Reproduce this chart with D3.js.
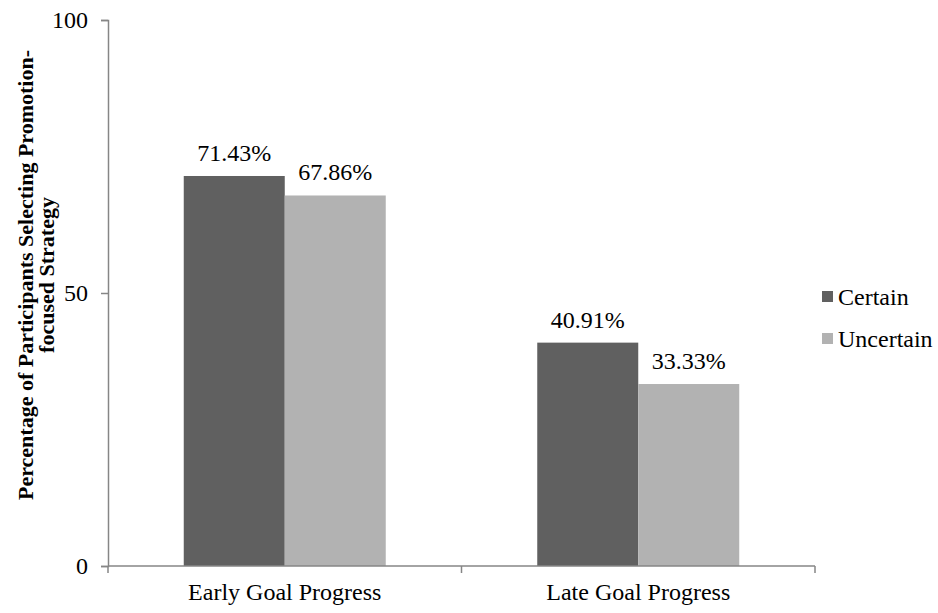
<!DOCTYPE html>
<html>
<head>
<meta charset="utf-8">
<script src="https://cdn.jsdelivr.net/npm/d3@7"></script>
<style>
  html, body { margin: 0; padding: 0; background: #fff; }
  svg { display: block; }
</style>
</head>
<body>
<svg id="chart" width="938" height="613"></svg>
<script>
// Data
const categories = ["Early Goal Progress", "Late Goal Progress"];
const seriesNames = ["Certain", "Uncertain"];
const certainValues = [71.43, 40.91];
const uncertainValues = [67.86, 33.33];
const yTicks = [0, 50, 100];
const seriesColors = ["#606060", "#b2b2b2"];

const seriesValues = [certainValues, uncertainValues];

const serif = "'Liberation Serif', 'Times New Roman', Times, serif";
const svg = d3.select("#chart");
const axisColor = "#868686";

const plotLeft = 108, plotRight = 815, plotTop = 20, plotBottom = 566;

const x = d3.scaleBand().domain(categories).range([plotLeft, plotRight]).padding(0);
const xInner = d3.scaleBand().domain(seriesNames).range([0, x.bandwidth()])
  .paddingInner(0).paddingOuter(0.75);
const y = d3.scaleLinear().domain([0, 100]).range([plotBottom, plotTop]);

// Bars
const groups = svg.append("g").selectAll("g")
  .data(categories)
  .join("g")
  .attr("transform", d => `translate(${x(d)},0)`);

groups.selectAll("rect")
  .data((d, i) => seriesNames.map((s, j) => ({ s, j, v: seriesValues[j][i] })))
  .join("rect")
  .attr("x", d => xInner(d.s))
  .attr("y", d => y(d.v))
  .attr("width", xInner.bandwidth())
  .attr("height", d => y(0) - y(d.v))
  .attr("fill", d => seriesColors[d.j]);

// Value labels
groups.selectAll("text.val")
  .data((d, i) => seriesNames.map((s, j) => ({ s, j, v: seriesValues[j][i] })))
  .join("text")
  .attr("class", "val")
  .attr("x", d => xInner(d.s) + xInner.bandwidth() / 2)
  .attr("y", d => y(d.v) - 15)
  .attr("text-anchor", "middle")
  .style("font-family", serif)
  .style("font-size", "24px")
  .attr("fill", "#000")
  .text(d => d.v.toFixed(2) + "%");

// Y axis
const yAxis = d3.axisLeft(y).tickValues(yTicks).tickSize(7).tickPadding(13).tickFormat(d3.format("d"));
const gy = svg.append("g").attr("transform", `translate(${plotLeft},0)`).call(yAxis);
gy.select(".domain").attr("stroke", axisColor).attr("stroke-width", 1.5);
gy.selectAll(".tick line").attr("stroke", axisColor).attr("stroke-width", 1.5);
gy.selectAll(".tick text")
  .style("font-family", serif)
  .style("font-size", "24px")
  .attr("fill", "#000");

// X axis with boundary ticks
const gx = svg.append("g").attr("transform", `translate(0,${plotBottom})`);
gx.append("line").attr("x1", plotLeft).attr("x2", plotRight).attr("y1", 0).attr("y2", 0)
  .attr("stroke", axisColor).attr("stroke-width", 1.5);
const bounds = [plotLeft].concat(categories.map(c => x(c) + x.bandwidth()));
gx.selectAll("line.tick").data(bounds).join("line")
  .attr("class", "tick")
  .attr("x1", d => d).attr("x2", d => d).attr("y1", 0).attr("y2", 7)
  .attr("stroke", axisColor).attr("stroke-width", 1.5);
gx.selectAll("text").data(categories).join("text")
  .attr("x", d => x(d) + x.bandwidth() / 2)
  .attr("y", 34)
  .attr("text-anchor", "middle")
  .style("font-family", serif)
  .style("font-size", "24px")
  .attr("fill", "#000")
  .text(d => d);

// Y axis title (two lines, bold)
const yTitle = svg.append("text")
  .attr("transform", "translate(33,275) rotate(-90)")
  .attr("text-anchor", "middle")
  .style("font-family", serif)
  .style("font-size", "22px")
  .style("font-weight", "bold")
  .attr("fill", "#000");
yTitle.append("tspan").attr("x", 0).attr("dy", 0).text("Percentage of Participants Selecting Promotion-");
yTitle.append("tspan").attr("x", 0).attr("dy", 21).text("focused Strategy");

// Legend
const legend = svg.append("g").selectAll("g")
  .data(seriesNames)
  .join("g")
  .attr("transform", (d, i) => `translate(822,${297 + i * 42})`);
legend.append("rect").attr("x", 0).attr("y", -6).attr("width", 11).attr("height", 11)
  .attr("fill", (d, i) => seriesColors[i]);
legend.append("text").attr("x", 16).attr("y", 8)
  .style("font-family", serif)
  .style("font-size", "24px")
  .attr("fill", "#000")
  .text(d => d);
</script>
</body>
</html>
